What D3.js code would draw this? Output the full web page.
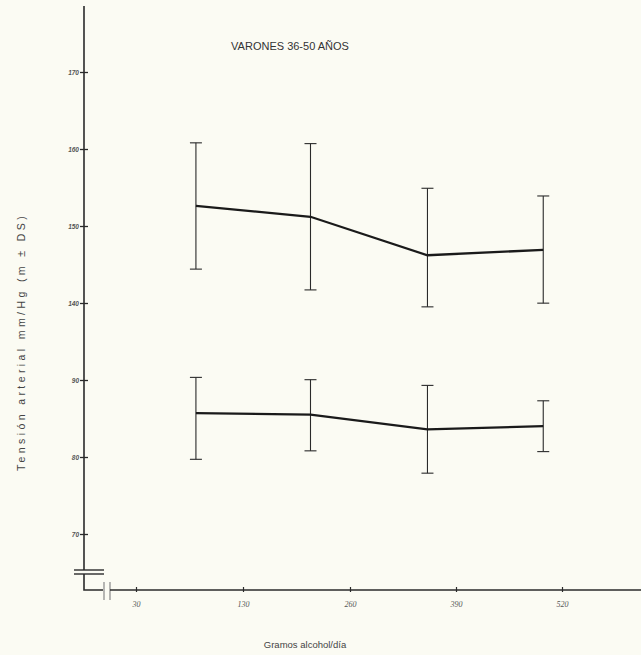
<!DOCTYPE html>
<html><head><meta charset="utf-8">
<script src="https://cdnjs.cloudflare.com/ajax/libs/d3/7.8.5/d3.min.js"></script>
<style>body{margin:0;background:#fbfbf3;}svg{display:block;}</style>
</head><body>
<script>
// ---- data ----
const xTickValues = [30, 130, 260, 390, 520];
const xTickLabels = ["30", "130", "260", "390", "520"];
const yTickValues = [170, 160, 150, 140, 90, 80, 70];
const yTickLabels = ["170", "160", "150", "140", "90", "80", "70"];
const doses = [86, 212, 355, 497];             // grams alcohol/day (group positions)
const systolicMean = [152.6, 151.2, 146.2, 146.9];
const systolicSD   = [8.2, 9.5, 8.7, 7.0];
const diastolicMean = [85.7, 85.5, 83.6, 84.0];
const diastolicSD   = [6.0, 4.7, 5.7, 3.3];

const W = 641, H = 655;
const svg = d3.select("body").append("svg").attr("width", W).attr("height", H);
svg.append("rect").attr("width", W).attr("height", H).attr("fill", "#fbfbf3");

const ink = "#2a2a2a";
// broken axes: piecewise linear scales
const x = d3.scaleLinear().domain(xTickValues).range([136, 243, 350, 456, 562]);
const y = d3.scaleLinear().domain([70, 90, 140, 170]).range([534, 380, 303, 72]);

// y axis line
const axX = 84;
svg.append("line").attr("x1", axX).attr("x2", axX).attr("y1", 6).attr("y2", 570)
  .attr("stroke", ink).attr("stroke-width", 1.6);
// y axis break marks
[570, 574].forEach(v => svg.append("line").attr("x1", 74).attr("x2", 104)
  .attr("y1", v).attr("y2", v).attr("stroke", ink).attr("stroke-width", 1.4));
// lower L-shaped piece
svg.append("path").attr("d", `M${axX},574 V590 H103`).attr("fill", "none")
  .attr("stroke", ink).attr("stroke-width", 1.6);
// x axis break
[104, 110].forEach(v => svg.append("line").attr("x1", v).attr("x2", v)
  .attr("y1", 582).attr("y2", 600).attr("stroke", "#888").attr("stroke-width", 1.2));
svg.append("line").attr("x1", 110).attr("x2", W).attr("y1", 590).attr("y2", 590)
  .attr("stroke", ink).attr("stroke-width", 1.6);

// y ticks via axis
const yAxis = d3.axisLeft(y).tickValues(yTickValues)
  .tickFormat((d, i) => yTickLabels[i]).tickSize(8).tickPadding(1);
const gy = svg.append("g").attr("transform", `translate(${axX + 4},0)`).call(yAxis);
gy.select(".domain").remove();
gy.selectAll("line").attr("stroke", ink).attr("stroke-width", 1.3);
gy.selectAll("text").attr("font-family", "Liberation Sans, Arial, sans-serif")
  .attr("font-size", 6.5).attr("font-style", "italic").attr("font-weight", "bold").attr("fill", "#555");

// x ticks via axis
const xAxis = d3.axisBottom(x).tickValues(xTickValues)
  .tickFormat((d, i) => xTickLabels[i]).tickSize(5).tickPadding(9);
const gx = svg.append("g").attr("transform", `translate(0,587)`).call(xAxis);
gx.select(".domain").remove();
gx.selectAll("line").attr("stroke", ink).attr("stroke-width", 1.2);
gx.selectAll("text").attr("font-family", "Liberation Serif, serif")
  .attr("font-size", 8).attr("font-style", "italic").attr("fill", "#555");

// series
function drawSeries(means, sds) {
  const pts = doses.map((d, i) => ({x: d, m: means[i], s: sds[i]}));
  const g = svg.append("g");
  g.selectAll("line.eb").data(pts).enter().append("line").attr("class", "eb")
    .attr("x1", d => x(d.x)).attr("x2", d => x(d.x))
    .attr("y1", d => y(d.m + d.s)).attr("y2", d => y(d.m - d.s))
    .attr("stroke", ink).attr("stroke-width", 1.1);
  [["capTop", 1], ["capBot", -1]].forEach(([cls, sgn]) => {
    g.selectAll("line." + cls).data(pts).enter().append("line").attr("class", cls)
      .attr("x1", d => x(d.x) - 6).attr("x2", d => x(d.x) + 6)
      .attr("y1", d => y(d.m + sgn * d.s))
      .attr("y2", d => y(d.m + sgn * d.s))
      .attr("stroke", ink).attr("stroke-width", 1.1);
  });
  g.append("path").datum(pts)
    .attr("d", d3.line().x(d => x(d.x)).y(d => y(d.m)))
    .attr("fill", "none").attr("stroke", "#1a1a1a").attr("stroke-width", 2.3);
}
drawSeries(systolicMean, systolicSD);
drawSeries(diastolicMean, diastolicSD);

// texts
svg.append("text").attr("x", 290).attr("y", 50).attr("text-anchor", "middle")
  .attr("font-family", "Liberation Sans, Arial, sans-serif").attr("font-size", 11)
  .attr("fill", "#333").text("VARONES 36-50 AÑOS");
svg.append("text").attr("transform", "translate(25,342) rotate(-90)")
  .attr("text-anchor", "middle").attr("letter-spacing", 3.4)
  .attr("font-family", "Liberation Sans, Arial, sans-serif").attr("font-size", 10.5)
  .attr("fill", "#444").text("Tensión arterial mm/Hg (m ± DS)");
svg.append("text").attr("x", 305).attr("y", 648).attr("text-anchor", "middle")
  .attr("font-family", "Liberation Sans, Arial, sans-serif").attr("font-size", 9.5)
  .attr("fill", "#444").text("Gramos alcohol/día");
</script>
</body></html>
